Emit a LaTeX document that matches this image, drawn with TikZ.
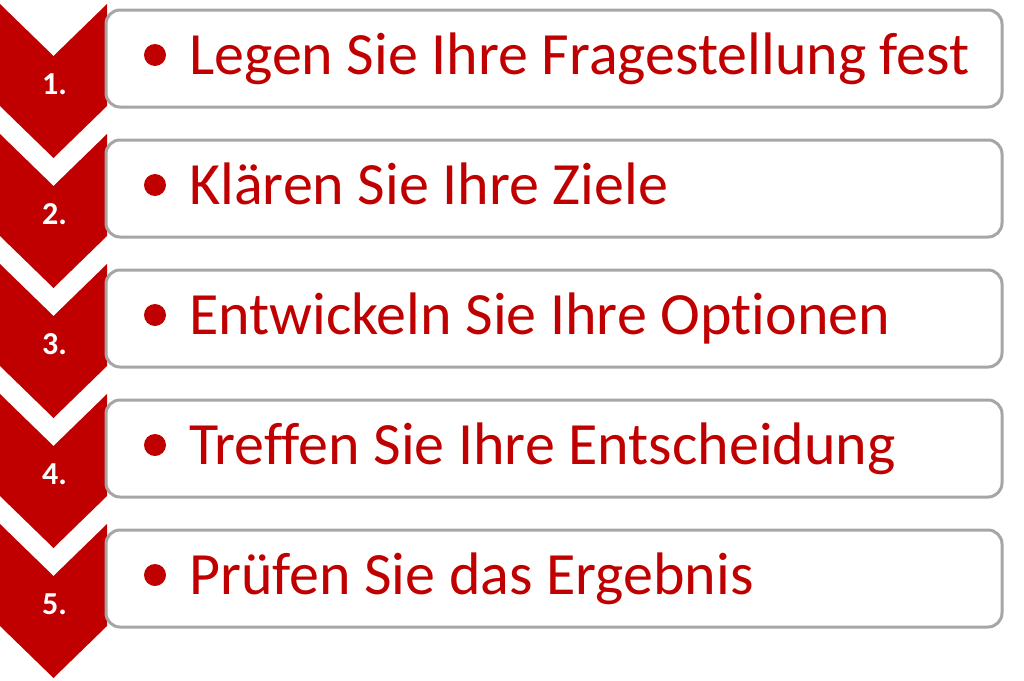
\documentclass[tikz,border=0pt]{standalone}
\usepackage{fontspec}
\setmainfont{Carlito}[Ligatures=NoCommon]
\definecolor{dkred}{HTML}{C00000}
\definecolor{bordergrey}{HTML}{A6A6A6}
\tikzset{
  chev/.style={fill=dkred, draw=none},
  stepbox/.style={draw=bordergrey, line width=3pt, fill=white, rounded corners=14pt, minimum width=896pt, minimum height=97pt, inner sep=0pt, outer sep=0pt},
  numtxt/.style={text=white, font=\fontsize{32}{32}\selectfont\bfseries, inner sep=0pt, anchor=base},
  bulmark/.style={circle, fill=dkred, draw=none, minimum size=22pt, inner sep=0pt},
  itemtxt/.style={text=dkred, font=\fontsize{60}{60}\selectfont, inner sep=0pt, anchor=base west},
}
\begin{document}
\begin{tikzpicture}[x=1pt,y=-1pt]
\useasboundingbox (0,0) rectangle (1024,680);
\foreach \i/\txt in {1/{Legen Sie Ihre Fragestellung fest},2/{Klären Sie Ihre Ziele},3/{Entwickeln Sie Ihre Optionen},4/{Treffen Sie Ihre Entscheidung},5/{Prüfen Sie das Ergebnis}}{
  \pgfmathsetmacro{\T}{4+130*(\i-1)}
  \fill[chev] (0,\T) -- (53.5,\T+52) -- (107,\T) -- (107,\T+102) -- (53.5,\T+154) -- (0,\T+102) -- cycle;
  \node[stepbox] (box\i) at (554,\T+54.5) {};
  \node[numtxt] (num\i) at (54.5,\T+90) {\i.};
  \node[bulmark] (bul\i) at (155,\T+51) {};
  \node[itemtxt] (item\i) at (189,\T+70.5) {\txt};
}
\end{tikzpicture}
\end{document}
